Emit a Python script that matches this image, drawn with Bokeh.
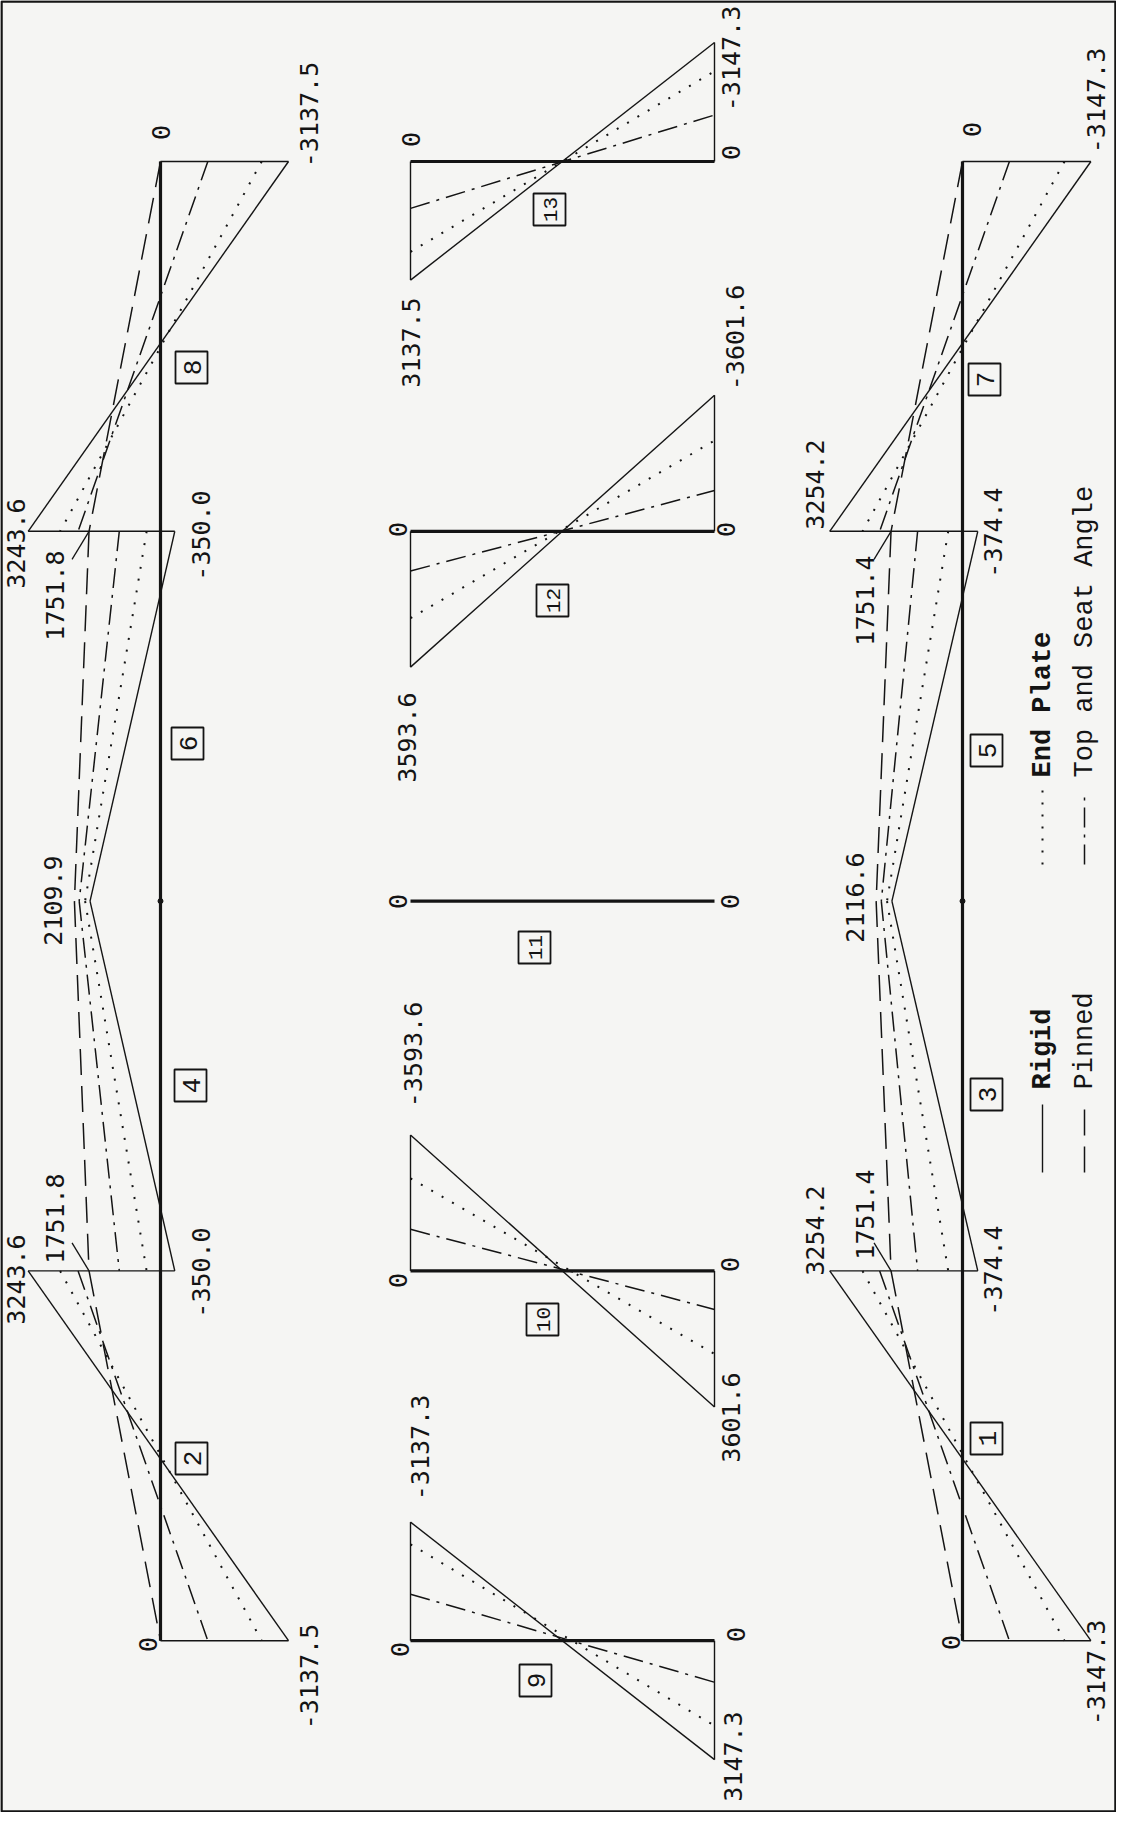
import math
from bokeh.plotting import figure
from bokeh.models import Range1d
from bokeh.embed import file_html
from bokeh.resources import INLINE
from bokeh.core.properties import value

# ---------------- data (moments) ----------------
STATIONS = [0, 1, 2, 3, 4]          # joint stations along the beams (bay index)

# upper beam: members 8, 6, 4, 2 (start value, end value)
UB_MEMBERS = ["8", "6", "4", "2"]
UB_RIGID = [(-3137.5, 3243.6), (-350.0, 1727.0), (1727.0, -350.0), (3243.6, -3137.5)]
UB_END_PLATE = [(-2480.0, 2460.0), (340.0, 1848.0), (1848.0, 340.0), (2460.0, -2480.0)]
UB_TOP_SEAT = [(-1160.0, 2020.0), (1010.0, 1993.0), (1993.0, 1010.0), (2020.0, -1160.0)]
UB_PINNED = [(0.0, 1751.8), (1751.8, 2109.9), (2109.9, 1751.8), (1751.8, 0.0)]

# lower beam: members 7, 5, 3, 1
LB_MEMBERS = ["7", "5", "3", "1"]
LB_RIGID = [(-3147.3, 3254.2), (-374.4, 1730.0), (1730.0, -374.4), (3254.2, -3147.3)]
LB_END_PLATE = [(-2500.0, 2450.0), (350.0, 1850.0), (1850.0, 350.0), (2450.0, -2500.0)]
LB_TOP_SEAT = [(-1150.0, 2030.0), (1100.0, 1990.0), (1990.0, 1100.0), (2030.0, -1150.0)]
LB_PINNED = [(0.0, 1751.4), (1751.4, 2116.6), (2116.6, 1751.4), (1751.4, 0.0)]

# columns: 13, 12, 11, 10, 9 (one per station; left end value, right end value)
COL_MEMBERS = ["13", "12", "11", "10", "9"]
COL_RIGID = [(3137.5, -3147.3), (3593.6, -3601.6), (0.0, 0.0), (-3593.6, 3601.6), (-3137.3, 3147.3)]
COL_END_PLATE = [(2390.0, -2390.0), (2300.0, -2400.0), (0.0, 0.0), (-2450.0, 2200.0), (-2550.0, 2250.0)]
COL_TOP_SEAT = [(1240.0, -1230.0), (1050.0, -1080.0), (0.0, 0.0), (-1100.0, 1020.0), (-1230.0, 1100.0)]
COL_PINNED = [(0.0, 0.0), (0.0, 0.0), (0.0, 0.0), (0.0, 0.0), (0.0, 0.0)]

LEGEND_NAMES = ["Rigid", "End Plate", "Pinned", "Top and Seat Angle"]

# ---------------- layout / style ----------------
W, H = 1116, 1812
BG = "#f5f5f3"
INK = "#141414"
ORIGIN_Y = 169.0
BAY_PX = 369.8
UB_BASE_X = 168.0
LB_BASE_X = 970.0
BEAM_SCALE = 0.0408
COL_X0, COL_X1 = 418.0, 722.0
COL_SCALE = 0.0378
NUM_FONT = value("DejaVu Sans Mono")
LEG_FONT = value("Liberation Mono")
STYLES = {
    "rigid": dict(line_dash="solid", line_width=1.4),
    "end_plate": dict(line_dash="2 10", line_width=2.0),
    "top_seat": dict(line_dash="20 7 3 7", line_width=1.5),
    "pinned": dict(line_dash="26 11", line_width=1.5),
}


def sy(s):
    return ORIGIN_Y + s * BAY_PX


p = figure(width=W, height=H, x_range=Range1d(8, 8 + W), y_range=Range1d(-(8 + H), -8),
           output_backend="svg", toolbar_location=None, min_border=0,
           x_axis_location=None, y_axis_location=None)
p.grid.visible = False
p.outline_line_color = None
p.background_fill_color = BG
p.border_fill_color = BG

# frame border
p.quad(left=[9], right=[1123], top=[-9], bottom=[-1819], fill_color=None,
       line_color=INK, line_width=2.5)


def beam(base, series):
    # baseline
    p.line([base, base], [-sy(STATIONS[0]), -sy(STATIONS[-1])], line_color=INK, line_width=3.2)
    for key, vals in series.items():
        xs, ys = [], []
        for i, (a, b) in enumerate(vals):
            xs.append([base - a * BEAM_SCALE, base - b * BEAM_SCALE])
            ys.append([-sy(STATIONS[i]), -sy(STATIONS[i + 1])])
        p.multi_line(xs, ys, line_color=INK, **STYLES[key])
    # ordinates of rigid diagram at column joints
    rig = series["rigid"]
    oxs, oys = [], []
    for i, (a, b) in enumerate(rig):
        for s, v in ((STATIONS[i], a), (STATIONS[i + 1], b)):
            if s == 2:
                continue
            oxs.append([base, base - v * BEAM_SCALE])
            oys.append([-sy(s), -sy(s)])
    p.multi_line(oxs, oys, line_color=INK, line_width=1.4)
    p.scatter([base], [-sy(2)], size=5, color=INK)


beam(UB_BASE_X, {"pinned": UB_PINNED, "top_seat": UB_TOP_SEAT,
                 "end_plate": UB_END_PLATE, "rigid": UB_RIGID})
beam(LB_BASE_X, {"pinned": LB_PINNED, "top_seat": LB_TOP_SEAT,
                 "end_plate": LB_END_PLATE, "rigid": LB_RIGID})

# columns
for key, vals in (("pinned", COL_PINNED), ("top_seat", COL_TOP_SEAT),
                  ("end_plate", COL_END_PLATE), ("rigid", COL_RIGID)):
    xs, ys = [], []
    for s, (a, b) in zip(STATIONS, vals):
        if a == 0 and b == 0:
            continue
        xs.append([COL_X0, COL_X1])
        ys.append([-(sy(s) + a * COL_SCALE), -(sy(s) + b * COL_SCALE)])
    if xs:
        p.multi_line(xs, ys, line_color=INK, **STYLES[key])
cxs, cys = [], []
for s, (a, b) in zip(STATIONS, COL_RIGID):
    cxs.append([COL_X0, COL_X1]); cys.append([-sy(s), -sy(s)])
p.multi_line(cxs, cys, line_color=INK, line_width=3.2)
oxs, oys = [], []
for s, (a, b) in zip(STATIONS, COL_RIGID):
    if a != 0:
        oxs.append([COL_X0, COL_X0]); oys.append([-sy(s), -(sy(s) + a * COL_SCALE)])
    if b != 0:
        oxs.append([COL_X1, COL_X1]); oys.append([-sy(s), -(sy(s) + b * COL_SCALE)])
p.multi_line(oxs, oys, line_color=INK, line_width=1.4)

# leader lines for the pinned interior values
lx, ly = [], []
for base, vals in ((UB_BASE_X, UB_PINNED), (LB_BASE_X, LB_PINNED)):
    v = vals[0][1]
    px = base - v * BEAM_SCALE
    lx.append([px, px - 17]); ly.append([-sy(1), -(sy(1) + 28)])
    lx.append([px, px - 17]); ly.append([-sy(3), -(sy(3) - 28)])
p.multi_line(lx, ly, line_color=INK, line_width=1.3)

# value labels (page px positions)
LABELS = [
    ("0", 168, 140), ("-3137.5", 316, 122), ("3243.6", 23, 551), ("1751.8", 62, 603),
    ("-350.0", 208, 543), ("2109.9", 60, 908), ("3243.6", 23, 1287), ("1751.8", 62, 1226),
    ("-350.0", 208, 1280), ("0", 155, 1652), ("-3137.5", 316, 1684),
    ("0", 979, 137), ("-3147.3", 1103, 108), ("3254.2", 822, 492), ("1751.4", 872, 608),
    ("-374.4", 1000, 540), ("2116.6", 862, 905), ("3254.2", 822, 1238), ("1751.4", 872, 1222),
    ("-374.4", 1000, 1278), ("0", 958, 1650), ("-3147.3", 1103, 1680),
    ("0", 418, 147), ("3137.5", 418, 350), ("0", 738, 160), ("-3147.3", 738, 66),
    ("0", 405, 537), ("3593.6", 414, 745), ("0", 733, 537), ("-3601.6", 742, 345),
    ("0", 405, 909), ("0", 737, 909),
    ("0", 405, 1288), ("-3593.6", 420, 1062), ("0", 737, 1272), ("3601.6", 738, 1425),
    ("0", 407, 1657), ("-3137.3", 427, 1455), ("0", 743, 1642), ("3147.3", 740, 1764),
]
p.text(x=[l[1] for l in LABELS], y=[-l[2] for l in LABELS], text=[l[0] for l in LABELS],
       angle=math.pi / 2, text_font=NUM_FONT, text_font_size="25px", text_color=INK,
       text_align="center", text_baseline="middle")

# member number boxes
BOXES = [(UB_MEMBERS[0], 199, 375), (UB_MEMBERS[1], 195, 751), (UB_MEMBERS[2], 198, 1093),
         (UB_MEMBERS[3], 199, 1466),
         (LB_MEMBERS[0], 992, 387), (LB_MEMBERS[1], 994, 758), (LB_MEMBERS[2], 994, 1102),
         (LB_MEMBERS[3], 994, 1446),
         (COL_MEMBERS[0], 557, 217), (COL_MEMBERS[1], 560, 608), (COL_MEMBERS[2], 542, 955),
         (COL_MEMBERS[3], 550, 1327), (COL_MEMBERS[4], 543, 1688)]
p.rect(x=[b[1] for b in BOXES], y=[-b[2] for b in BOXES], width=32, height=32,
       fill_color=None, line_color=INK, line_width=1.8)
one = [b for b in BOXES if len(b[0]) == 1]
two = [b for b in BOXES if len(b[0]) == 2]
p.text(x=[b[1] + 1 for b in one], y=[-b[2] for b in one], text=[b[0] for b in one],
       angle=math.pi / 2, text_font=LEG_FONT, text_font_size="26px", text_color=INK,
       text_align="center", text_baseline="middle")
p.text(x=[b[1] + 1 for b in two], y=[-b[2] for b in two], text=[b[0] for b in two],
       angle=math.pi / 2, text_font=LEG_FONT, text_font_size="21px", text_color=INK,
       text_align="center", text_baseline="middle")

# legend
LEG = [(LEGEND_NAMES[0], "rigid", 1050, 1180, 1112, 1097, "bold"),
       (LEGEND_NAMES[1], "end_plate", 1050, 872, 798, 785, "bold"),
       (LEGEND_NAMES[2], "pinned", 1092, 1180, 1112, 1097, "normal"),
       (LEGEND_NAMES[3], "top_seat", 1092, 872, 798, 785, "normal")]
for name, key, x, y0, y1, ty, fs in LEG:
    p.line([x, x], [-y0, -y1], line_color=INK, **STYLES[key])
    p.text(x=[x], y=[-ty], text=[name], angle=math.pi / 2, text_font=LEG_FONT,
           text_font_size="27px", text_font_style=fs, text_color=INK,
           text_align="left", text_baseline="middle")

open("out.html", "w").write(file_html(p, INLINE))
